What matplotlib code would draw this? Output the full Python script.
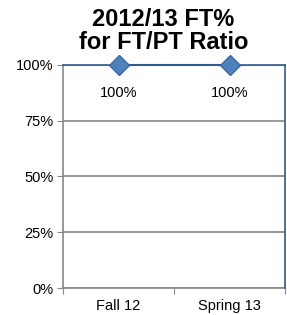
import matplotlib
matplotlib.use('Agg')
import matplotlib.pyplot as plt
from matplotlib.ticker import PercentFormatter

categories = ['Fall 12', 'Spring 13']
ft_pct = [100, 100]
y_ticks = [0, 25, 50, 75, 100]

plt.rcParams['font.family'] = ['Liberation Sans', 'DejaVu Sans']

fig = plt.figure(figsize=(2.87, 3.15), dpi=100)
ax = fig.add_axes([63 / 287, 1 - 288 / 315, 222 / 287, 223 / 315])

x = [0.5, 1.5]
ax.plot(x, ft_pct, color='#2F5C8F', lw=1.5, marker='D', markersize=10.5,
        markerfacecolor='#4F81BD', markeredgecolor='#3A6AA5', zorder=5, clip_on=False)
for xi, v in zip(x, ft_pct):
    ax.annotate(f'{v}%', (xi, v), xytext=(0, -20.5), textcoords='offset points',
                ha='center', va='center', fontsize=10.5)

ax.set_xlim(0, 2)
ax.set_ylim(0, 100)
ax.set_yticks(y_ticks)
ax.yaxis.set_major_formatter(PercentFormatter(decimals=0))
ax.set_xticks([0, 1, 2])
ax.set_xticklabels([])
ax.set_xticks(x, minor=True)
ax.set_xticklabels(categories, minor=True)
ax.tick_params(axis='x', which='minor', length=0, labelsize=10.5, pad=8)
ax.tick_params(axis='x', which='major', length=4, color='#888888')
ax.tick_params(axis='y', length=4, color='#888888', labelsize=10.5, pad=3)
ax.grid(axis='y', color='#888888', lw=1.2)
ax.set_axisbelow(True)
for s in ['top', 'right']:
    ax.spines[s].set_color('#2F5C8F')
    ax.spines[s].set_linewidth(1.2)
    ax.spines[s].set_zorder(4)
ax.spines['left'].set_color('#888888')
ax.spines['bottom'].set_color('#888888')
ax.spines['left'].set_linewidth(1.2)
ax.spines['bottom'].set_linewidth(1.2)

fig.text(0.57, 0.975, '2012/13 FT%\nfor FT/PT Ratio', ha='center', va='top',
         fontsize=17, fontweight='bold', linespacing=1.0)

fig.savefig('out.png', dpi=100)
